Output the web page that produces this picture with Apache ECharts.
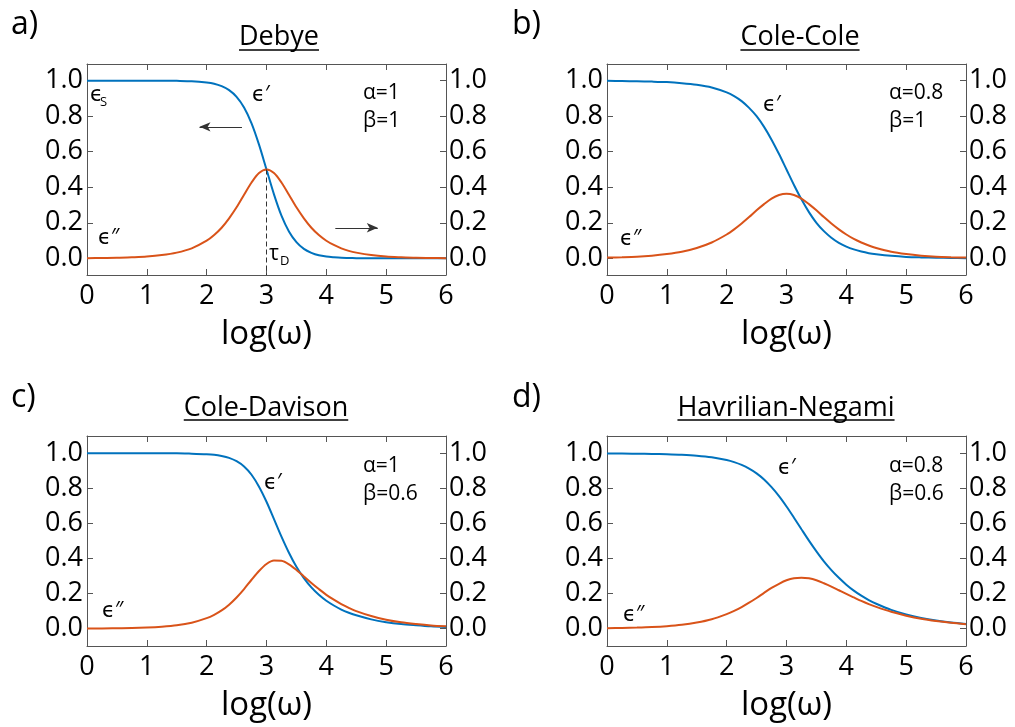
<!DOCTYPE html>
<html>
<head>
<meta charset="utf-8">
<script src="https://cdn.jsdelivr.net/npm/echarts@6/dist/echarts.min.js"></script>
<style>
  html, body { margin: 0; padding: 0; background: #fff; }
  #chart { width: 1015px; height: 727px; }
</style>
</head>
<body>
<div id="chart"></div>
<script>
// Relaxation spectra: real (ϵ′) and imaginary (ϵ″) permittivity vs log frequency
// (sampled more densely around the relaxation, 2 ≤ log(ω) ≤ 4.5)
const logW = [0, 0.25, 0.5, 0.75, 1, 1.25, 1.5, 1.75, 2,
              2.125, 2.25, 2.375, 2.5, 2.625, 2.75, 2.875, 3,
              3.125, 3.25, 3.375, 3.5, 3.625, 3.75, 3.875, 4,
              4.125, 4.25, 4.375, 4.5, 4.75, 5, 5.25, 5.5, 5.75, 6];

const debyeReal = [1.000, 1.000, 1.000, 1.000, 1.000, 1.000, 0.999, 0.997, 0.990,
                   0.983, 0.969, 0.947, 0.909, 0.849, 0.760, 0.640, 0.500,
                   0.360, 0.240, 0.151, 0.091, 0.053, 0.031, 0.017, 0.010,
                   0.006, 0.003, 0.002, 0.001, 0.000, 0.000, 0.000, 0.000, 0.000, 0.000];
const debyeImag = [0.001, 0.002, 0.003, 0.006, 0.010, 0.018, 0.032, 0.056, 0.099,
                   0.131, 0.172, 0.225, 0.287, 0.358, 0.427, 0.480, 0.500,
                   0.480, 0.427, 0.358, 0.287, 0.225, 0.172, 0.131, 0.099,
                   0.075, 0.056, 0.042, 0.032, 0.018, 0.010, 0.006, 0.003, 0.002, 0.001];

const coleColeReal = [0.999, 0.998, 0.997, 0.995, 0.992, 0.986, 0.977, 0.962, 0.934,
                      0.913, 0.885, 0.847, 0.800, 0.740, 0.668, 0.587, 0.500,
                      0.413, 0.332, 0.260, 0.200, 0.153, 0.116, 0.087, 0.066,
                      0.050, 0.038, 0.029, 0.023, 0.014, 0.008, 0.005, 0.003, 0.002, 0.001];
const coleColeImag = [0.004, 0.006, 0.009, 0.015, 0.024, 0.037, 0.058, 0.089, 0.134,
                      0.163, 0.196, 0.232, 0.270, 0.305, 0.336, 0.356, 0.363,
                      0.356, 0.336, 0.305, 0.270, 0.232, 0.196, 0.163, 0.134,
                      0.109, 0.089, 0.072, 0.058, 0.037, 0.024, 0.015, 0.009, 0.006, 0.004];

const coleDavisonReal = [1.000, 1.000, 1.000, 1.000, 1.000, 1.000, 1.000, 0.998, 0.995,
                         0.992, 0.985, 0.974, 0.955, 0.925, 0.878, 0.810, 0.724,
                         0.625, 0.525, 0.433, 0.353, 0.288, 0.235, 0.193, 0.159,
                         0.132, 0.109, 0.091, 0.076, 0.053, 0.037, 0.026, 0.019, 0.013, 0.009];
const coleDavisonImag = [0.001, 0.001, 0.002, 0.003, 0.006, 0.011, 0.019, 0.034, 0.060,
                         0.079, 0.104, 0.137, 0.178, 0.226, 0.279, 0.329, 0.369,
                         0.389, 0.387, 0.367, 0.335, 0.298, 0.261, 0.226, 0.193,
                         0.165, 0.140, 0.119, 0.100, 0.072, 0.051, 0.036, 0.026, 0.018, 0.013];

const havriliakReal = [0.999, 0.999, 0.998, 0.997, 0.995, 0.992, 0.987, 0.978, 0.962,
                       0.950, 0.934, 0.913, 0.886, 0.851, 0.807, 0.756, 0.697,
                       0.633, 0.567, 0.502, 0.441, 0.384, 0.334, 0.290, 0.251,
                       0.217, 0.188, 0.163, 0.142, 0.107, 0.081, 0.061, 0.046, 0.035, 0.027];
const havriliakImag = [0.002, 0.004, 0.006, 0.009, 0.014, 0.022, 0.035, 0.054, 0.083,
                       0.101, 0.123, 0.148, 0.175, 0.204, 0.232, 0.256, 0.276,
                       0.288, 0.291, 0.287, 0.276, 0.259, 0.240, 0.219, 0.198,
                       0.178, 0.158, 0.140, 0.124, 0.096, 0.074, 0.056, 0.043, 0.033, 0.025];

const xTicks = [0, 1, 2, 3, 4, 5, 6];
const yTicks = [0, 0.2, 0.4, 0.6, 0.8, 1.0];

const panelTitles = ['Debye', 'Cole-Cole', 'Cole-Davison', 'Havrilian-Negami'];
const panelLetters = ['a)', 'b)', 'c)', 'd)'];
const alphaLabels = ['α=1', 'α=0.8', 'α=1', 'α=0.8'];
const betaLabels = ['β=1', 'β=1', 'β=0.6', 'β=0.6'];

const BLUE = '#0072BD';
const ORANGE = '#D95319';
const AXIS = '#555';
const INK = '#000';
const FONT = '"Open Sans", "DejaVu Sans", sans-serif';

// panel frames (pixels) and y ranges
const panels = [
  { left: 87,  top: 64,  width: 359, height: 211, ymin: -0.094, ymax: 1.094, re: debyeReal,       im: debyeImag },
  { left: 607, top: 64,  width: 359, height: 211, ymin: -0.094, ymax: 1.094, re: coleColeReal,    im: coleColeImag },
  { left: 87,  top: 436, width: 359, height: 210, ymin: -0.099, ymax: 1.099, re: coleDavisonReal, im: coleDavisonImag },
  { left: 607, top: 436, width: 359, height: 210, ymin: -0.099, ymax: 1.099, re: havriliakReal,   im: havriliakImag }
];

const pairs = ys => logW.map((x, i) => [x, ys[i]]);

const grid = [], xAxis = [], yAxis = [], series = [];

panels.forEach((p, i) => {
  grid.push({ left: p.left, top: p.top, width: p.width, height: p.height, containLabel: false });

  // bottom axis with labels
  xAxis.push({
    type: 'value', gridIndex: i, position: 'bottom', min: 0, max: 6, interval: 1,
    name: 'log(ω)', nameLocation: 'middle', nameGap: 43,
    nameTextStyle: { fontFamily: FONT, fontSize: 33, color: INK },
    axisLine: { show: true, onZero: false, lineStyle: { color: AXIS, width: 1 } },
    axisTick: { show: true, inside: true, length: 6, lineStyle: { color: AXIS } },
    axisLabel: { show: true, fontFamily: FONT, fontSize: 27, color: INK, margin: 8,
                 customValues: xTicks, formatter: v => String(v) },
    splitLine: { show: false }
  });
  // top mirror axis
  xAxis.push({
    type: 'value', gridIndex: i, position: 'top', min: 0, max: 6, interval: 1,
    axisLine: { show: true, onZero: false, lineStyle: { color: AXIS, width: 1 } },
    axisTick: { show: true, inside: true, length: 6, lineStyle: { color: AXIS } },
    axisLabel: { show: false },
    splitLine: { show: false }
  });

  ['left', 'right'].forEach(side => {
    yAxis.push({
      type: 'value', gridIndex: i, position: side, min: p.ymin, max: p.ymax,
      axisLine: { show: true, onZero: false, lineStyle: { color: AXIS, width: 1 } },
      axisTick: { show: true, inside: true, length: 6, customValues: yTicks, lineStyle: { color: AXIS } },
      axisLabel: { show: true, fontFamily: FONT, fontSize: 27, color: INK, margin: side === 'left' ? 4 : 3,
                   customValues: yTicks, formatter: v => v.toFixed(1) },
      splitLine: { show: false }
    });
  });

  const realSeries = {
    type: 'line', name: 'ϵ′', xAxisIndex: 2 * i, yAxisIndex: 2 * i,
    data: pairs(p.re), showSymbol: false, smooth: 0.3, silent: true,
    lineStyle: { color: BLUE, width: 2 }, itemStyle: { color: BLUE }, z: 3
  };
  const imagSeries = {
    type: 'line', name: 'ϵ″', xAxisIndex: 2 * i, yAxisIndex: 2 * i + 1,
    data: pairs(p.im), showSymbol: false, smooth: 0.3, silent: true,
    lineStyle: { color: ORANGE, width: 2 }, itemStyle: { color: ORANGE }, z: 4
  };

  if (i === 0) {
    // arrow pointing to the axis of the real part
    realSeries.markLine = {
      silent: true, symbol: ['none', 'arrow'], symbolSize: [7, 11], animation: false,
      label: { show: false },
      lineStyle: { color: '#333', width: 1.2, type: 'solid' },
      data: [[{ coord: [2.59, 0.74] }, { coord: [1.88, 0.74] }]]
    };
    // relaxation time marker under the loss peak, and arrow to the loss axis
    imagSeries.markLine = {
      silent: true, symbol: ['none', 'none'], animation: false,
      label: { show: false },
      lineStyle: { color: '#333', width: 1, type: [5, 3] },
      data: [
        [{ coord: [3, 0.5] }, { coord: [3, p.ymin] }],
        [{ coord: [4.15, 0.172], symbol: 'none' }, { coord: [4.86, 0.172], symbol: 'arrow', symbolSize: [7, 11],
          lineStyle: { type: 'solid', width: 1.2 } }]
      ]
    };
  }
  series.push(realSeries, imagSeries);
});

// text annotations
const graphic = [];
const txt = (x, y, text, size) => graphic.push({
  type: 'text', x: x, y: y, silent: true,
  style: { text: text, fontFamily: FONT, fontSize: size, fill: INK, align: 'left', verticalAlign: 'middle' }
});

const measure = (text, size) => {
  const ctx = document.createElement('canvas').getContext('2d');
  ctx.font = size + 'px ' + FONT;
  return ctx.measureText(text).width;
};

const titlePos = [[279, 37], [800, 37], [266, 408], [786, 408]];
const underlineY = [50, 50, 420, 420];
const letterPos = [[11, 25], [512, 25], [11, 398], [512, 398]];
panelTitles.forEach((t, i) => {
  const [cx, cy] = titlePos[i];
  graphic.push({ type: 'text', x: cx, y: cy, silent: true,
    style: { text: t, fontFamily: FONT, fontSize: 27, fill: INK, align: 'center', verticalAlign: 'middle' } });
  const w = measure(t, 27);
  graphic.push({ type: 'line', silent: true,
    shape: { x1: cx - w / 2, y1: underlineY[i], x2: cx + w / 2, y2: underlineY[i] },
    style: { stroke: INK, lineWidth: 1.5 } });
  txt(letterPos[i][0], letterPos[i][1], panelLetters[i], 32);
});

const alphaPos = [[363, 93], [889, 93], [363, 466], [889, 466]];
const betaPos = [[363, 121], [889, 121], [363, 494], [889, 494]];
const realPos = [[252, 95], [763, 105], [264, 483], [778, 468]];
const imagPos = [[98, 238], [620, 239], [102, 611], [623, 615]];
for (let i = 0; i < 4; i++) {
  txt(alphaPos[i][0], alphaPos[i][1], alphaLabels[i], 21);
  txt(betaPos[i][0], betaPos[i][1], betaLabels[i], 21);
  txt(realPos[i][0], realPos[i][1], 'ϵ′', 21);
  txt(imagPos[i][0], imagPos[i][1], 'ϵ″', 21);
}
// static permittivity and relaxation time labels
txt(90, 95, 'ϵ', 21);
txt(100, 102, 'S', 13);
txt(269, 254, 'τ', 21);
txt(280, 261, 'D', 13);

const chart = echarts.init(document.getElementById('chart'), null, { renderer: 'canvas' });
chart.setOption({
  animation: false,
  backgroundColor: '#ffffff',
  grid: grid,
  xAxis: xAxis,
  yAxis: yAxis,
  series: series,
  graphic: graphic
});
</script>
</body>
</html>
